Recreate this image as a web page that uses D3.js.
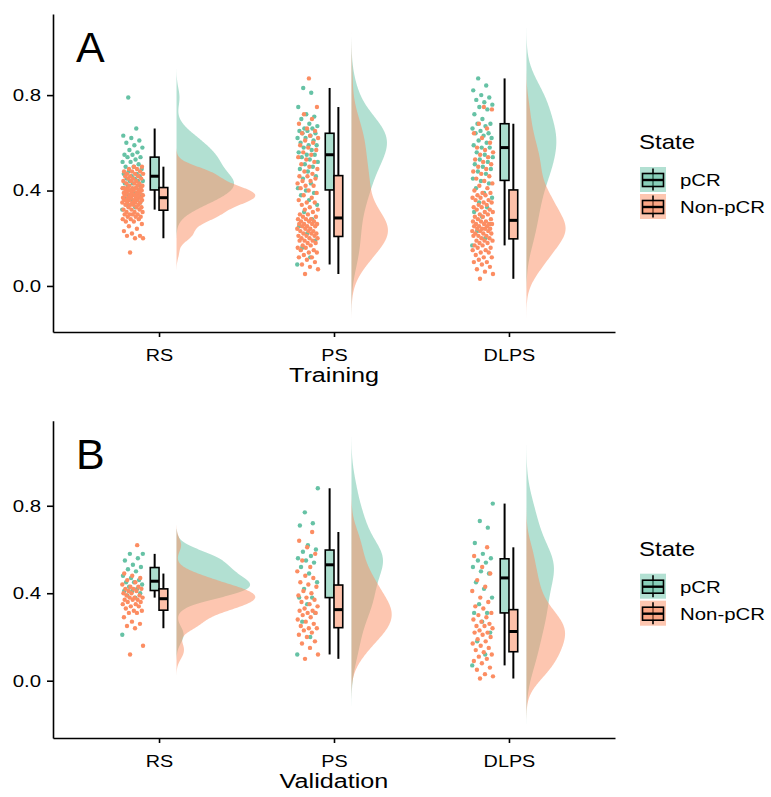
<!DOCTYPE html>
<html>
<head>
<meta charset="utf-8">
<script src="https://cdn.jsdelivr.net/npm/d3@7"></script>
<style>
  body { margin: 0; background: #fff; }
  text { font-family: "Liberation Sans", Arial, sans-serif; fill: #000; }
</style>
</head>
<body>
<svg id="chart" width="771" height="797"></svg>
<script>
const models = ["RS", "PS", "DLPS"];
const states = ["pCR", "Non-pCR"];
const stateColors = ["#66c2a5", "#fc8d62"];
const yTicks = [0, 0.4, 0.8];

// Training cohort scores
const trainRsPcr = [0.32,0.33,0.34,0.35,0.36,0.37,0.37,0.38,0.38,0.39,0.39,0.40,
	0.40,0.41,0.41,0.42,0.42,0.43,0.43,0.44,0.44,0.44,0.45,0.45,0.46,
	0.46,0.47,0.47,0.48,0.49,0.50,0.50,0.51,0.52,0.52,0.53,0.54,
	0.54,0.55,0.55,0.56,0.57,0.58,0.59,0.60,0.61,0.62,0.63,0.66,0.79];
const trainRsNon = [0.14,0.20,0.20,0.21,0.21,0.22,0.23,0.24,0.25,0.26,0.27,0.27,0.28,0.28,0.28,0.29,0.29,0.29,0.30,0.30,0.30,0.30,0.31,0.31,0.31,
	0.32,0.32,0.32,0.33,0.33,0.33,0.34,0.34,0.34,0.34,0.35,0.35,0.35,0.35,0.35,0.36,0.36,0.36,0.36,0.36,0.36,0.37,0.37,0.37,0.37,
	0.37,0.37,0.38,0.38,0.38,0.38,0.38,0.38,0.39,0.39,0.39,0.39,0.39,0.40,0.40,0.40,0.40,0.40,0.40,0.41,0.41,0.41,0.41,0.41,0.41,
	0.42,0.42,0.42,0.43,0.43,0.43,0.44,0.44,0.44,0.45,0.45,0.45,0.46,0.46,0.46,0.47,0.47,0.47,0.48,0.48,0.48,0.49,0.49,0.50,0.50];
const trainPsPcr = [0.09,0.12,0.16,0.19,0.22,0.25,0.28,0.31,0.34,0.36,0.38,0.39,
	0.40,0.41,0.43,0.45,0.46,0.48,0.49,0.50,0.51,0.52,0.53,0.54,0.55,
	0.55,0.56,0.57,0.58,0.59,0.59,0.60,0.61,0.62,0.62,0.63,0.64,
	0.64,0.65,0.65,0.66,0.66,0.67,0.68,0.70,0.71,0.72,0.75,0.81,0.83];
const trainPsNon = [0.05,0.07,0.08,0.09,0.10,0.11,0.12,0.12,0.13,0.14,0.14,0.15,0.15,0.16,0.16,0.17,0.17,0.18,0.18,0.19,0.19,0.19,0.20,0.20,0.20,
	0.21,0.21,0.21,0.22,0.22,0.22,0.23,0.23,0.23,0.24,0.24,0.24,0.25,0.25,0.25,0.26,0.26,0.26,0.26,0.27,0.27,0.27,0.28,0.28,0.28,
	0.29,0.29,0.30,0.30,0.31,0.32,0.32,0.33,0.34,0.35,0.35,0.36,0.37,0.38,0.39,0.40,0.41,0.42,0.42,0.43,0.44,0.44,0.45,0.46,0.46,
	0.47,0.48,0.49,0.50,0.51,0.52,0.53,0.54,0.55,0.56,0.57,0.58,0.59,0.60,0.61,0.62,0.63,0.64,0.65,0.66,0.68,0.70,0.72,0.75,0.87];
const trainDlpsPcr = [0.17,0.20,0.23,0.26,0.29,0.31,0.33,0.35,0.37,0.39,0.41,0.43,
	0.44,0.45,0.47,0.48,0.49,0.50,0.51,0.52,0.53,0.54,0.55,0.56,0.58,
	0.58,0.59,0.60,0.61,0.62,0.63,0.64,0.64,0.65,0.66,0.67,0.68,
	0.68,0.70,0.72,0.74,0.75,0.76,0.77,0.78,0.79,0.80,0.82,0.84,0.87];
const trainDlpsNon = [0.03,0.05,0.06,0.07,0.08,0.09,0.10,0.10,0.11,0.12,0.12,0.13,0.14,0.14,0.15,0.15,0.16,0.16,0.17,0.17,0.18,0.18,0.19,0.19,0.19,
	0.20,0.20,0.21,0.21,0.21,0.22,0.22,0.22,0.23,0.23,0.23,0.24,0.24,0.24,0.24,0.25,0.25,0.25,0.26,0.26,0.26,0.26,0.27,0.27,0.27,
	0.28,0.28,0.29,0.29,0.30,0.30,0.31,0.31,0.32,0.32,0.33,0.33,0.34,0.34,0.35,0.35,0.36,0.36,0.37,0.37,0.38,0.38,0.39,0.39,0.40,
	0.41,0.42,0.43,0.44,0.45,0.46,0.47,0.48,0.49,0.50,0.51,0.52,0.53,0.54,0.55,0.56,0.57,0.58,0.60,0.62,0.64,0.66,0.68,0.74,0.75];

// Validation cohort scores
const valRsPcr = [0.21,0.38,0.39,0.40,0.41,0.41,0.42,0.43,0.44,0.45,0.45,0.46,0.47,0.48,0.50,0.51,0.52,0.53,0.55,0.56,0.58,0.58];
const valRsNon = [0.12,0.16,0.24,0.25,0.26,0.27,0.29,0.31,0.31,0.32,0.32,0.33,0.34,0.34,0.35,0.35,0.36,0.36,0.37,0.37,0.37,
	0.38,0.38,0.38,0.39,0.39,0.40,0.40,0.41,0.41,0.42,0.42,0.42,0.43,0.43,0.44,0.45,0.46,0.47,0.48,0.49,0.62];
const valPsPcr = [0.12,0.20,0.27,0.31,0.35,0.38,0.38,0.42,0.45,0.49,0.52,0.54,0.55,0.56,0.57,0.59,0.60,0.62,0.71,0.72,0.77,0.88];
const valPsNon = [0.10,0.12,0.15,0.17,0.18,0.20,0.21,0.22,0.23,0.24,0.24,0.25,0.26,0.27,0.28,0.29,0.30,0.31,0.31,0.32,0.32,
	0.33,0.34,0.35,0.36,0.37,0.38,0.39,0.40,0.41,0.43,0.44,0.45,0.47,0.48,0.50,0.52,0.55,0.58,0.61,0.64,0.68];
const valDlpsPcr = [0.07,0.12,0.18,0.22,0.27,0.31,0.31,0.35,0.38,0.42,0.45,0.49,0.50,0.52,0.54,0.55,0.56,0.58,0.63,0.70,0.73,0.81];
const valDlpsNon = [0.01,0.02,0.03,0.05,0.06,0.08,0.09,0.10,0.11,0.12,0.13,0.14,0.15,0.16,0.17,0.18,0.19,0.20,0.21,0.22,0.22,
	0.23,0.24,0.25,0.25,0.26,0.27,0.28,0.29,0.30,0.31,0.33,0.34,0.36,0.38,0.41,0.43,0.46,0.49,0.52,0.57,0.61];

const panels = [
	{label: "A", title: "Training", top: 14, bottom: 332, yDomain: [-0.193, 1.14],
		series: [[trainRsPcr, trainRsNon], [trainPsPcr, trainPsNon], [trainDlpsPcr, trainDlpsNon]]},
	{label: "B", title: "Validation", top: 420.7, bottom: 738, yDomain: [-0.262, 1.189],
		series: [[valRsPcr, valRsNon], [valPsPcr, valPsNon], [valDlpsPcr, valDlpsNon]]}
];

const svg = d3.select("#chart");
const x = d3.scalePoint().domain(models).range([53, 615]).padding(0.606);
const step = x.step();
const stretch = "scale(1.2,1)"; // text in the original is a bit wider than Arial

// gaussian kde with R's nrd0 bandwidth, extended 3 bandwidths past the data (trim = FALSE)
function kde(values) {
	const n = values.length;
	const iqr = d3.quantile(values, 0.75) - d3.quantile(values, 0.25);
	const bw = 0.9 * Math.min(d3.deviation(values), iqr / 1.34) * Math.pow(n, -0.2);
	const lo = d3.min(values) - 3 * bw, hi = d3.max(values) + 3 * bw;
	return d3.range(257).map(i => {
		const t = lo + (hi - lo) * i / 256;
		const dens = d3.sum(values, v => Math.exp(-0.5 * ((t - v) / bw) ** 2)) / (n * bw * Math.sqrt(2 * Math.PI));
		return [t, dens];
	});
}

function boxStats(values) {
	const q1 = d3.quantile(values, 0.25), med = d3.quantile(values, 0.5), q3 = d3.quantile(values, 0.75);
	const iqr = q3 - q1;
	return {
		q1, med, q3,
		lo: d3.min(values.filter(v => v >= q1 - 1.5 * iqr)),
		hi: d3.max(values.filter(v => v <= q3 + 1.5 * iqr))
	};
}

function drawPanel(p) {
	const y = d3.scaleLinear().domain(p.yDomain).range([p.bottom, p.top]);
	const g = svg.append("g");

	const groups = [];
	models.forEach((m, mi) => states.forEach((s, si) =>
		groups.push({model: m, state: si, values: p.series[mi][si]})));
	groups.forEach(gr => gr.dens = kde(gr.values));

	// scale = "area": widest density in the panel gets half of width 0.9
	const maxDens = d3.max(groups, gr => d3.max(gr.dens, d => d[1]));
	const w = d3.scaleLinear().domain([0, maxDens]).range([0, 0.45 * step]);

	// half violins, nudged right
	g.append("g").selectAll("path")
		.data(groups)
		.join("path")
		.attr("d", gr => {
			const base = x(gr.model) + 0.1 * step;
			return d3.area().y(d => y(d[0])).x0(base).x1(d => base + w(d[1]))(gr.dens);
		})
		.attr("fill", gr => stateColors[gr.state])
		.attr("fill-opacity", 0.5);

	// jittered points, nudged left
	const pts = [];
	groups.forEach(gr => gr.values.forEach((v, i) => pts.push({
		model: gr.model, state: gr.state, v: v, i: i, order: i / gr.values.length
	})));
	pts.sort((a, b) => a.order - b.order);
	g.append("g").selectAll("circle")
		.data(pts)
		.join("circle")
		.attr("cx", d => x(d.model) - 0.15 * step + (((d.i * 0.618034 + d.state * 0.37) % 1) - 0.5) * 0.12 * step)
		.attr("cy", d => y(d.v))
		.attr("r", 2.2)
		.attr("fill", d => stateColors[d.state]);

	// dodged boxplots
	const bw = 0.05 * step;
	const boxes = g.append("g").selectAll("g")
		.data(groups)
		.join("g")
		.attr("transform", gr => `translate(${x(gr.model) + (gr.state === 0 ? -0.5 : 0.5) * bw},0)`);
	boxes.each(function(gr) {
		const b = boxStats(gr.values);
		const s = d3.select(this);
		s.append("line").attr("y1", y(b.hi)).attr("y2", y(b.lo))
			.attr("stroke", "#000").attr("stroke-width", 2);
		s.append("rect").attr("x", -bw / 2).attr("width", bw)
			.attr("y", y(b.q3)).attr("height", y(b.q1) - y(b.q3))
			.attr("fill", "#fff").attr("stroke", "none");
		s.append("rect").attr("x", -bw / 2).attr("width", bw)
			.attr("y", y(b.q3)).attr("height", y(b.q1) - y(b.q3))
			.attr("fill", stateColors[gr.state]).attr("fill-opacity", 0.55)
			.attr("stroke", "#000").attr("stroke-width", 1.6);
		s.append("line").attr("x1", -bw / 2).attr("x2", bw / 2)
			.attr("y1", y(b.med)).attr("y2", y(b.med))
			.attr("stroke", "#000").attr("stroke-width", 3);
	});

	// axes
	const yAxis = g.append("g")
		.attr("transform", "translate(53,0)")
		.call(d3.axisLeft(y).tickValues(yTicks).tickFormat(d3.format(".1f")).tickSize(6).tickSizeOuter(0));
	const xAxis = g.append("g")
		.attr("transform", `translate(0,${p.bottom})`)
		.call(d3.axisBottom(x).tickSize(5).tickSizeOuter(0));
	[yAxis, xAxis].forEach(a => {
		a.select(".domain").attr("stroke", "#000").attr("stroke-width", 1.6);
		a.selectAll(".tick line").attr("stroke", "#000").attr("stroke-width", 1.6);
		a.selectAll("text").attr("font-family", "Liberation Sans, Arial, sans-serif").attr("fill", "#000");
	});
	yAxis.selectAll("text").attr("font-size", 17).attr("x", -10).attr("transform", stretch);
	xAxis.selectAll("text").attr("font-size", 16.5).attr("y", 29).attr("dy", 0).attr("transform", stretch);

	g.append("text")
		.attr("transform", `translate(334,${p.bottom + 50}) ${stretch}`)
		.attr("text-anchor", "middle")
		.attr("font-size", 21)
		.text(p.title);

	g.append("text")
		.attr("x", 76).attr("y", p.top + 48)
		.attr("font-size", 43)
		.text(p.label);

	// legend
	const lg = g.append("g").attr("transform", `translate(640,${p.top})`);
	lg.append("text")
		.attr("transform", `translate(-1,135.3) ${stretch}`)
		.attr("font-size", 20)
		.text("State");
	const keys = lg.selectAll("g.key")
		.data(states)
		.join("g")
		.attr("class", "key")
		.attr("transform", (d, i) => `translate(0,${153 + i * 27})`);
	keys.append("rect").attr("width", 26).attr("height", 25)
		.attr("fill", (d, i) => stateColors[i]).attr("fill-opacity", 0.5);
	keys.append("line").attr("x1", 13).attr("x2", 13).attr("y1", 1.5).attr("y2", 23.5)
		.attr("stroke", "#000").attr("stroke-width", 1.6);
	keys.append("rect").attr("x", 2.5).attr("y", 6.5).attr("width", 21).attr("height", 13)
		.attr("fill", (d, i) => stateColors[i]).attr("fill-opacity", 0.55)
		.attr("stroke", "#000").attr("stroke-width", 1.6);
	keys.append("line").attr("x1", 2.5).attr("x2", 23.5).attr("y1", 13).attr("y2", 13)
		.attr("stroke", "#000").attr("stroke-width", 2.4);
	keys.append("text")
		.attr("transform", `translate(40,19) ${stretch}`)
		.attr("font-size", 17)
		.text(d => d);
}

panels.forEach(drawPanel);
</script>
</body>
</html>
